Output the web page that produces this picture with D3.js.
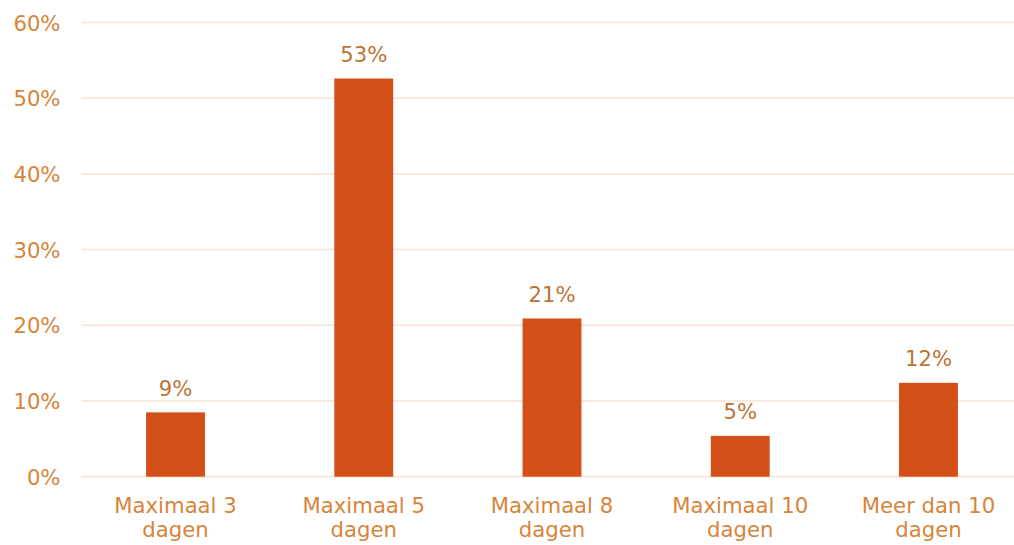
<!DOCTYPE html>
<html><head><meta charset="utf-8">
<script src="https://cdn.jsdelivr.net/npm/d3@7"></script>
<style>html,body{margin:0;padding:0;background:#fff;overflow:hidden}</style>
</head><body>
<svg id="c" width="1014" height="545"></svg>
<script>
const categories = [["Maximaal 3","dagen"],["Maximaal 5","dagen"],["Maximaal 8","dagen"],["Maximaal 10","dagen"],["Meer dan 10","dagen"]];
const values = [0.085, 0.526, 0.209, 0.054, 0.124];
const valueLabels = ["9%","53%","21%","5%","12%"];
const yTicks = [0,0.1,0.2,0.3,0.4,0.5,0.6];

const svg = d3.select("#c");
const font = "DejaVu Sans, Verdana, sans-serif";
const fs = "21.2px";
const x = d3.scaleBand().domain(categories.map((d,i)=>i)).range([81.4,1022.6]).paddingInner(0.687).paddingOuter(0.3435);
const y = d3.scaleLinear().domain([0,0.6]).range([476.7,22.5]);

// gridlines
svg.append("g").selectAll("line").data(yTicks).join("line")
  .attr("x1",81.4).attr("x2",1022.6)
  .attr("y1",d=>y(d)).attr("y2",d=>y(d))
  .attr("stroke","#F8E3D0").attr("stroke-width",1.5);

// y axis labels
const yAxis = d3.axisLeft(y).tickValues(yTicks).tickFormat(d3.format(".0%")).tickSize(0).tickPadding(0);
const ya = svg.append("g").attr("transform","translate(60.5,0)").call(yAxis);
ya.select(".domain").remove();
ya.selectAll("text").attr("font-family",font).attr("font-size",fs).attr("fill","#D6853B").attr("dy","0.36em");

// bars
svg.append("g").selectAll("rect").data(values).join("rect")
  .attr("x",(d,i)=>x(i)).attr("width",x.bandwidth())
  .attr("y",d=>y(d)).attr("height",d=>y(0)-y(d))
  .attr("fill","#D35018");

// data labels
svg.append("g").selectAll("text").data(values).join("text")
  .attr("x",(d,i)=>x(i)+x.bandwidth()/2).attr("y",d=>y(d)-16.5)
  .attr("text-anchor","middle").attr("font-family",font).attr("font-size",fs)
  .attr("fill","#BC7534").text((d,i)=>valueLabels[i]);

// x labels
const xl = svg.append("g").selectAll("text").data(categories).join("text")
  .attr("x",(d,i)=>x(i)+x.bandwidth()/2).attr("y",512.5)
  .attr("text-anchor","middle").attr("font-family",font).attr("font-size",fs)
  .attr("fill","#D6853B");
xl.each(function(d){
  const t = d3.select(this);
  const cx = t.attr("x");
  d.forEach((line,j)=>t.append("tspan").attr("x",cx).attr("dy",j?24.5:0).text(line));
});
</script>
</body></html>
